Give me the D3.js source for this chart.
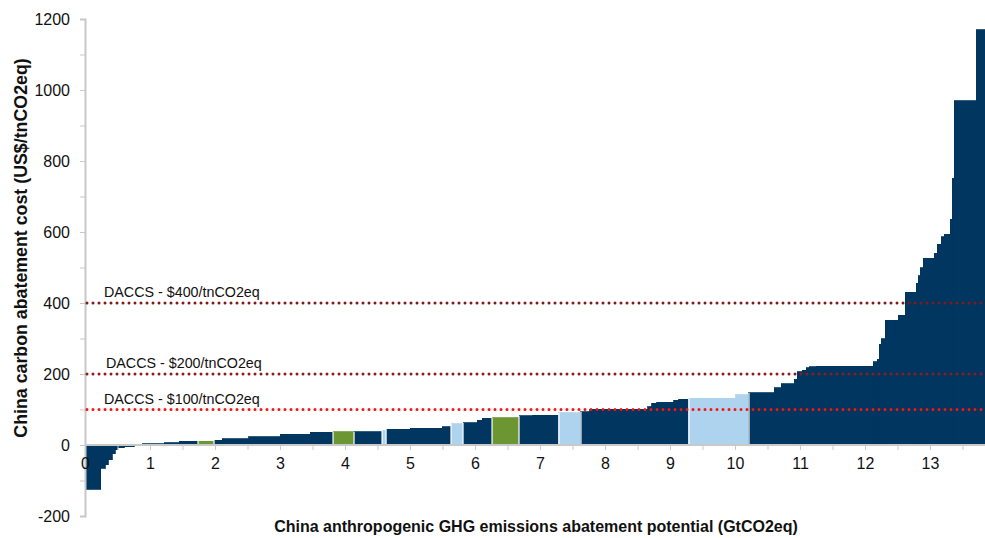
<!DOCTYPE html>
<html>
<head>
<meta charset="utf-8">
<script src="https://cdn.jsdelivr.net/npm/d3@7"></script>
<style>
  html, body { margin: 0; padding: 0; background: #fff; }
  svg { display: block; font-family: "Liberation Sans", Arial, sans-serif; }
</style>
</head>
<body>
<svg id="chart" width="985" height="538"></svg>
<script>
// Abatement measures: width (GtCO2eq), cost (US$/tCO2eq), type (D = dark, G = green, L = light blue)
const widths = [0.246,0.062,0.046,0.062,0.046,0.031,0.108,0.154,0.123,0.338,
                0.231,0.292,0.246,0.123,0.415,0.477,0.462,0.354,0.323,0.431,
                0.062,0.369,0.492,0.138,0.185,0.215,0.077,0.154,0.415,0.215,
                0.400,0.338,0.138,0.892,0.062,0.077,0.262,0.077,0.154,0.723,
                0.200,0.385,0.108,0.200,0.046,0.077,0.062,0.046,0.108,0.877,
                0.062,0.031,0.031,0.062,0.200,0.108,0.169,0.031,0.031,0.046,
                0.169,0.046,0.062,0.046,0.092,0.031,0.031,0.338,0.138];
const costs  = [-124,-66,-56,-42,-24,-14,-8,-5,-2,3,
                6,11,11,14,17,23,30,36,37,37,
                40,45,47,52,60,62,70,75,77,82,
                84,91,94,101,108,117,121,126,129,132,
                141,147,161,172,185,206,210,217,221,222,
                234,241,284,300,352,366,430,455,477,500,
                526,540,566,587,594,636,751,970,1170];
const types  = ["D","D","D","D","D","D","D","D","D","D",
                "D","D","G","D","D","D","D","D","G","D",
                "L","D","D","D","L","D","D","D","G","D",
                "D","L","D","D","D","D","D","D","D","L",
                "L","D","D","D","D","D","D","D","D","D",
                "D","D","D","D","D","D","D","D","D","D",
                "D","D","D","D","D","D","D","D","D"];

const yTickLabels = [-200, 0, 200, 400, 600, 800, 1000, 1200];
const xTickLabels = [0,1,2,3,4,5,6,7,8,9,10,11,12,13];
const daccsValues = [400, 200, 100];
const daccsLabels = ["DACCS - $400/tnCO2eq", "DACCS - $200/tnCO2eq", "DACCS - $100/tnCO2eq"];

const typeColor = { D: "#00365f", G: "#6b9632", L: "#aed3ee" };
const lineColor = { 400: "#7f1a1a", 200: "#8e1c1c", 100: "#ff1010" };

const svg = d3.select("#chart");
const mLeft = 85, mRight = 985, mTop = 19, mBottom = 516;

const ends = Array.from(d3.cumsum(widths));
const starts = ends.map((e, i) => e - widths[i]);
const xMax = ends[ends.length - 1];

const x = d3.scaleLinear().domain([0, xMax]).range([mLeft, mLeft + 65 * xMax]);
const y = d3.scaleLinear().domain([-200, 1200]).range([mBottom, mTop]);

const bars = costs.map((c, i) => ({ c, i, t: types[i] }));

// bars
svg.append("g").attr("shape-rendering", "crispEdges").selectAll("rect")
  .data(bars)
  .join("rect")
  .attr("x", d => x(starts[d.i]))
  .attr("width", d => Math.max(0.5, x(ends[d.i]) - x(starts[d.i])))
  .attr("y", d => y(Math.max(0, d.c)))
  .attr("height", d => Math.abs(y(d.c) - y(0)))
  .attr("fill", d => typeColor[d.t])
  .attr("stroke", d => typeColor[d.t])
  .attr("stroke-width", 0.8);

// thin white separators where the measure type changes
const seps = bars.filter(d => d.i > 0 && d.t !== types[d.i - 1]);
svg.append("g").selectAll("line")
  .data(seps)
  .join("line")
  .attr("x1", d => x(starts[d.i])).attr("x2", d => x(starts[d.i]))
  .attr("y1", y(0))
  .attr("y2", d => y(Math.max(d.c, costs[d.i - 1])))
  .attr("stroke", "#ffffff")
  .attr("stroke-width", 1.2);

// y axis
const yAxis = d3.axisLeft(y)
  .tickValues(d3.range(-200, 1201, 100))
  .tickSize(5)
  .tickPadding(10)
  .tickFormat(d => yTickLabels.includes(d) ? d : "");
const gy = svg.append("g").attr("transform", `translate(${mLeft},0)`).call(yAxis);
gy.select(".domain").attr("stroke", "#c8c8c8").attr("stroke-width", 2);
gy.selectAll(".tick line").attr("stroke", "#c8c8c8").attr("stroke-width", 1);
gy.selectAll(".tick text").attr("font-size", 16).attr("fill", "#111")
  .attr("font-family", "Liberation Sans, Arial, sans-serif");

// x axis at y=0
const xAxis = d3.axisBottom(x)
  .tickValues(d3.range(0, 13.51, 0.5))
  .tickSize(5)
  .tickPadding(8)
  .tickFormat(d => xTickLabels.includes(d) ? d : "");
const gx = svg.append("g").attr("transform", `translate(0,${y(0)})`).call(xAxis);
gx.select(".domain").attr("d", `M${mLeft},0H${mRight}`).attr("stroke", "#c8c8c8").attr("stroke-width", 2);
gx.selectAll(".tick line").attr("stroke", "#c8c8c8").attr("stroke-width", 1);
gx.selectAll(".tick text").attr("font-size", 16).attr("fill", "#111")
  .attr("font-family", "Liberation Sans, Arial, sans-serif");

// DACCS reference lines
daccsValues.forEach((v, i) => {
  svg.append("line")
    .attr("x1", mLeft + 2).attr("x2", mRight)
    .attr("y1", y(v)).attr("y2", y(v))
    .attr("stroke", lineColor[v])
    .attr("stroke-width", 3)
    .attr("stroke-linecap", "round")
    .attr("stroke-dasharray", "0,6");
  svg.append("text")
    .attr("x", mLeft + 19 + (v === 200 ? 2 : 0))
    .attr("y", y(v) - 6)
    .attr("font-size", 14.3)
    .attr("fill", "#111")
    .text(daccsLabels[i]);
});

// axis titles
svg.append("text")
  .attr("transform", `translate(27,248) rotate(-90)`)
  .attr("text-anchor", "middle")
  .attr("font-size", 17.8)
  .attr("font-weight", "bold")
  .attr("fill", "#111")
  .text("China carbon abatement cost (US$/tnCO2eq)");

svg.append("text")
  .attr("x", 536)
  .attr("y", 532)
  .attr("text-anchor", "middle")
  .attr("font-size", 16)
  .attr("font-weight", "bold")
  .attr("fill", "#111")
  .text("China anthropogenic GHG emissions abatement potential (GtCO2eq)");
</script>
</body>
</html>
